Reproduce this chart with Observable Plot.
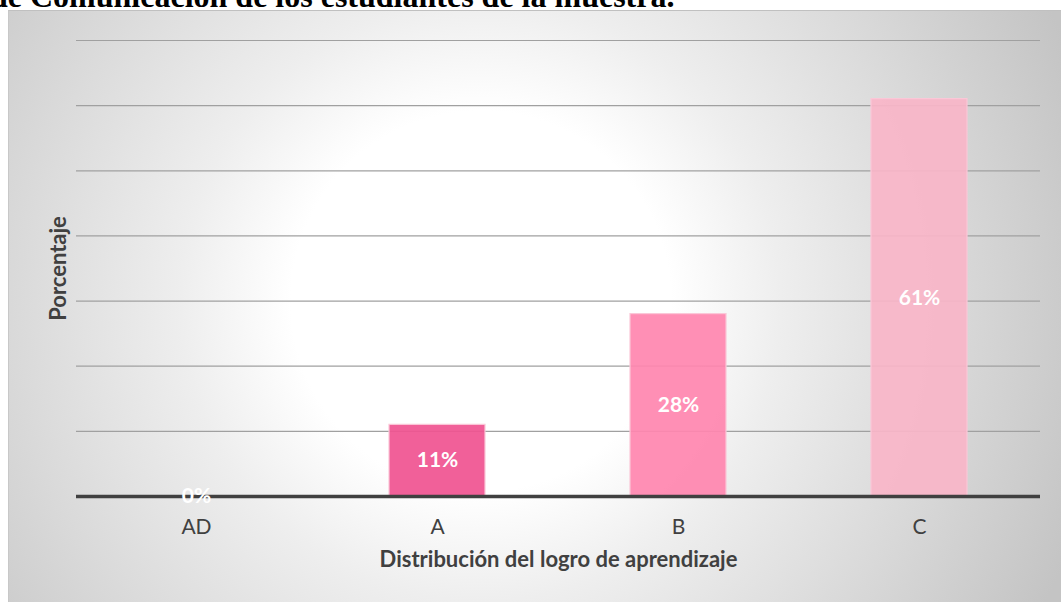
<!DOCTYPE html>
<html>
<head>
<meta charset="utf-8">
<script src="https://cdn.jsdelivr.net/npm/d3@7"></script>
<script src="https://cdn.jsdelivr.net/npm/@observablehq/plot@0.6"></script>
<style>
  html, body { margin: 0; padding: 0; background: #fff; width: 1061px; height: 602px; overflow: hidden; position: relative; }
  #title { position: absolute; left: -10px; top: -20px; font-family: "Liberation Serif", "Times New Roman", serif; font-weight: bold; font-size: 32px; line-height: 32px; color: #000; white-space: nowrap; }
  #chart { position: absolute; left: 8px; top: 10px; width: 1060px; height: 600px; box-sizing: border-box; border-left: 1px solid #c8c8c8; border-top: 1px solid #c0c0c0;
    background: radial-gradient(circle at 472px 290px, #ffffff 0px, #ffffff 190px, #eeeeee 300px, #c4c4c4 640px); }
  #chart svg { background: transparent; position: absolute; left: 0; top: 0; }
</style>
</head>
<body>
<div id="title">de Comunicación de los estudiantes de la muestra.</div>
<div id="chart"></div>
<script>
const categories = ["AD", "A", "B", "C"];
const values = [0, 11, 28, 61];
const valueLabels = ["0%", "11%", "28%", "61%"];
const barColors = ["#F05290", "#F05290", "#FF86AF", "#F9B5C8"];
const gridTicks = [10, 20, 30, 40, 50, 60, 70];
const xTitle = "Distribución del logro de aprendizaje";
const yTitle = "Porcentaje";

const data = categories.map((c, i) => ({cat: c, v: values[i], label: valueLabels[i], color: barColors[i]}));
const font = "Lato, 'Open Sans', sans-serif";

const plot = Plot.plot({
  width: 1052,
  height: 591,
  marginTop: 29,
  marginBottom: 106,
  marginLeft: 67,
  marginRight: 21,
  style: {background: "transparent", fontFamily: font, overflow: "visible"},
  x: {domain: categories, paddingInner: 0.6, paddingOuter: 0.3, label: null},
  y: {domain: [0, 70], label: null},
  marks: [
    Plot.ruleY(gridTicks, {stroke: "#a0a0a0", strokeWidth: 1.2}),
    Plot.barY(data, {x: "cat", y: "v", fill: "color", fillOpacity: 0.92, stroke: "#fbc7d8", strokeWidth: 1.2}),
    Plot.ruleY([0], {stroke: "#404040", strokeWidth: 3.5}),
    Plot.axisX({tickSize: 0, tickPadding: 23, fontSize: 21, fill: "#404040", label: null, fontFamily: font}),
    Plot.axisY({ticks: [], label: null}),
    Plot.text(data, {x: "cat", y: d => d.v / 2, text: "label", fill: "white", fontSize: 21, fontWeight: "bold", fontFamily: font}),
    Plot.text([xTitle], {frameAnchor: "bottom", dy: 70, textAnchor: "middle", fontSize: 22, fontWeight: "bold", fill: "#404040", fontFamily: font}),
    Plot.text([yTitle], {frameAnchor: "left", textAnchor: "middle", dx: -18, dy: 0, rotate: -90, fontSize: 22, fontWeight: "bold", fill: "#404040", fontFamily: font})
  ]
});
document.getElementById("chart").appendChild(plot);
</script>
</body>
</html>
